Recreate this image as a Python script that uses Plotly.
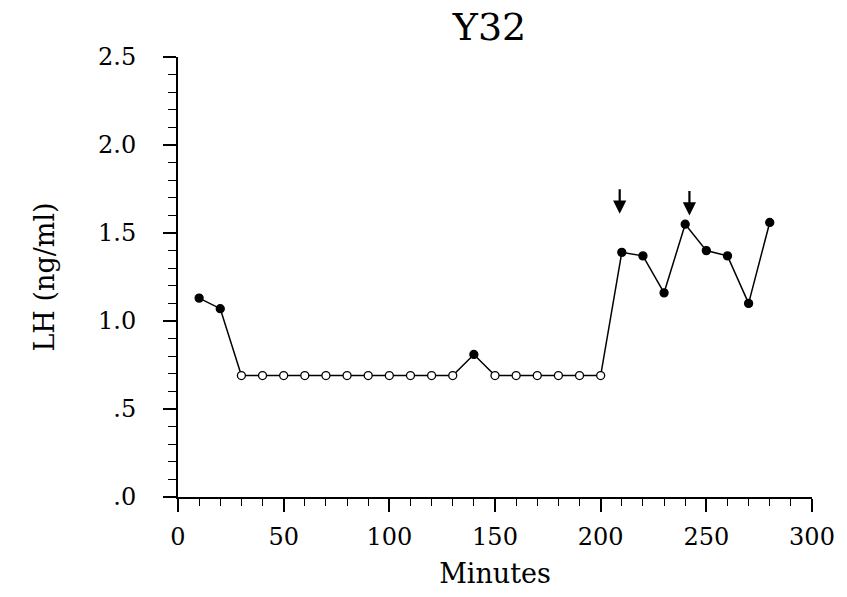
import plotly.graph_objects as go

minutes = [10, 20, 30, 40, 50, 60, 70, 80, 90, 100, 110, 120, 130, 140, 150, 160, 170, 180, 190, 200, 210, 220, 230, 240, 250, 260, 270, 280]
lh = [1.13, 1.07, 0.69, 0.69, 0.69, 0.69, 0.69, 0.69, 0.69, 0.69, 0.69, 0.69, 0.69, 0.81, 0.69, 0.69, 0.69, 0.69, 0.69, 0.69, 1.39, 1.37, 1.16, 1.55, 1.40, 1.37, 1.10, 1.56]
open_pt = [False, False, True, True, True, True, True, True, True, True, True, True, True, False, True, True, True, True, True, True, False, False, False, False, False, False, False, False]
arrow_x = [209, 242]
arrow_tip_y = [1.61, 1.60]

yticks = [0, 0.5, 1.0, 1.5, 2.0, 2.5]
ytext = [".0", ".5", "1.0", "1.5", "2.0", "2.5"]
xticks = [0, 50, 100, 150, 200, 250, 300]

FONT = "DejaVu Serif"
fig = go.Figure()
fig.add_trace(go.Scatter(
    x=minutes, y=lh, mode="lines+markers",
    line=dict(color="black", width=1.5),
    marker=dict(
        size=8,
        color=["white" if o else "black" for o in open_pt],
        line=dict(color="black", width=1.3)),
    showlegend=False, cliponaxis=False))

for ax_, ay_ in zip(arrow_x, arrow_tip_y):
    fig.add_annotation(x=ax_, y=ay_, ax=0, ay=-26, showarrow=True,
                       arrowhead=2, arrowsize=1.2, arrowwidth=2.2, arrowcolor="black", text="")

# axis line extensions
fig.add_shape(type="line", xref="paper", yref="paper", x0=-0.021, x1=0, y0=0, y1=0,
              line=dict(color="black", width=2))
fig.add_shape(type="line", xref="paper", yref="paper", x0=0, x1=0, y0=-0.018, y1=0,
              line=dict(color="black", width=2))

fig.update_layout(
    width=847, height=597,
    margin=dict(l=178, r=35, t=57, b=100),
    paper_bgcolor="white", plot_bgcolor="white",
    font=dict(family=FONT, size=24, color="black"),
    title=dict(text="Y32", x=0.578, xanchor="center", y=0.955, yanchor="middle",
               font=dict(family=FONT, size=38)),
    xaxis=dict(range=[0, 300], tickvals=xticks, ticks="outside", ticklen=13, tickwidth=1.5,
               showline=True, linecolor="black", linewidth=2, showgrid=False, zeroline=False,
               minor=dict(dtick=10, tick0=0, ticks="outside", ticklen=7, tickwidth=1.2, tickcolor="black"),
               tickcolor="black", ticklabelstandoff=4,
               title=dict(text="Minutes", font=dict(family=FONT, size=27), standoff=14)),
    yaxis=dict(range=[0, 2.5], tickvals=yticks, ticktext=ytext, ticks="outside", ticklen=13,
               tickwidth=1.5, showline=True, linecolor="black", linewidth=2, showgrid=False,
               zeroline=False, tickcolor="black", ticklabelstandoff=22,
               minor=dict(dtick=0.1, tick0=0, ticks="outside", ticklen=8, tickwidth=1.2, tickcolor="black"),
               title=dict(text="LH (ng/ml)", font=dict(family=FONT, size=27), standoff=36)),
)
fig.write_html("out.html")
